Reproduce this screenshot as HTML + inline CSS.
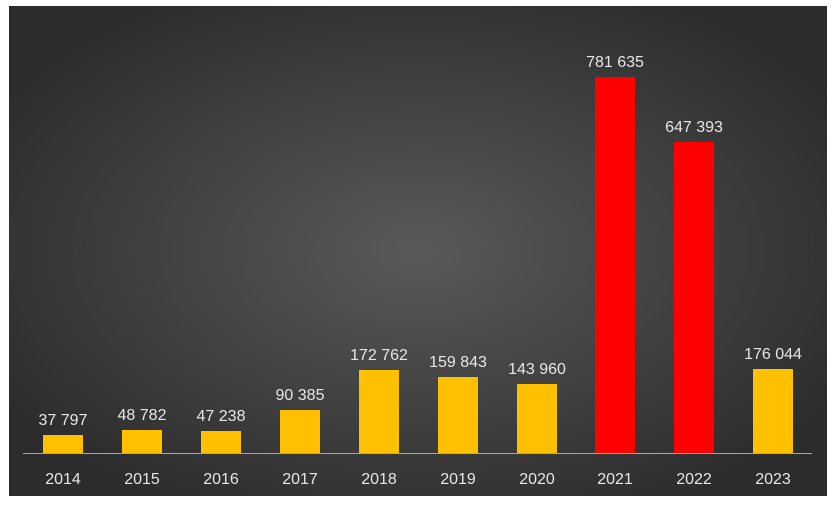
<!DOCTYPE html>
<html><head><style>
body{margin:0;background:#fff;width:834px;height:504px;overflow:hidden}
</style></head><body>
<svg width="834" height="504" xmlns="http://www.w3.org/2000/svg" font-family="Liberation Sans, sans-serif">
<defs>
<radialGradient id="g" cx="0.5" cy="0.5" r="0.6">
<stop offset="0" stop-color="#595959"/>
<stop offset="1" stop-color="#2c2c2c"/>
</radialGradient>
</defs>
<rect x="9" y="6" width="818" height="490" fill="url(#g)"/>
<line x1="23" y1="453.5" x2="812" y2="453.5" stroke="#a6a6a6" stroke-width="1"/>
<g font-size="16" fill="#e6e6e6" text-anchor="middle">
<rect x="43" y="435" width="40" height="18" fill="#ffc000"/><text x="63" y="425">37 797</text><text x="63" y="484">2014</text>
<rect x="122" y="430" width="40" height="23" fill="#ffc000"/><text x="142" y="420">48 782</text><text x="142" y="484">2015</text>
<rect x="201" y="431" width="40" height="22" fill="#ffc000"/><text x="221" y="421">47 238</text><text x="221" y="484">2016</text>
<rect x="280" y="410" width="40" height="43" fill="#ffc000"/><text x="300" y="400">90 385</text><text x="300" y="484">2017</text>
<rect x="359" y="370" width="40" height="83" fill="#ffc000"/><text x="379" y="360">172 762</text><text x="379" y="484">2018</text>
<rect x="438" y="377" width="40" height="76" fill="#ffc000"/><text x="458" y="367">159 843</text><text x="458" y="484">2019</text>
<rect x="517" y="384" width="40" height="69" fill="#ffc000"/><text x="537" y="374">143 960</text><text x="537" y="484">2020</text>
<rect x="595" y="77" width="40" height="376" fill="#ff0000"/><text x="615" y="67">781 635</text><text x="615" y="484">2021</text>
<rect x="674" y="142" width="40" height="311" fill="#ff0000"/><text x="694" y="132">647 393</text><text x="694" y="484">2022</text>
<rect x="753" y="369" width="40" height="84" fill="#ffc000"/><text x="773" y="359">176 044</text><text x="773" y="484">2023</text>
</g>
</svg>
</body></html>
